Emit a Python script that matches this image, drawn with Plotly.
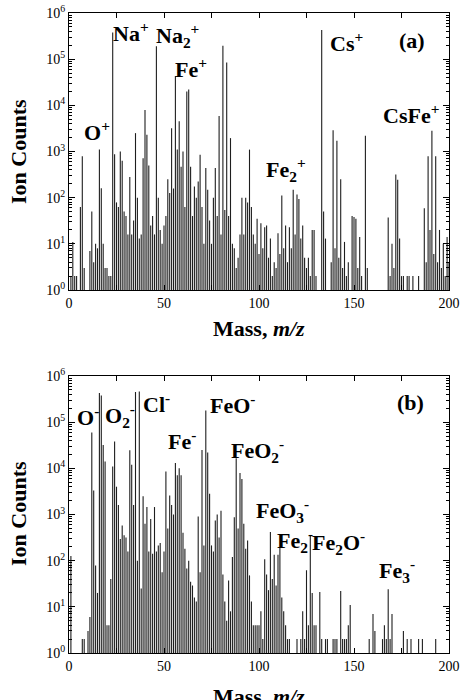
import plotly.graph_objects as go

# ---------------- data ----------------
masses = list(range(0, 201))

# Panel (a): positive ions, counts per m/z (1 = no counts, drawn on the baseline)
counts_pos = [
    1, 2, 11, 2, 2, 1, 63, 790, 3, 1,
    1, 7, 50, 4, 10, 8, 1100, 160, 10, 3,
    3, 2, 2, 380000, 870, 79, 63, 1000, 630, 50,
    40, 16, 280, 16, 32, 2500, 100, 13, 16, 710,
    7900, 2300, 500, 25, 40, 16, 190000, 100, 20, 10,
    25, 40, 250, 126, 3200, 158, 43000, 1100, 4500, 470,
    1000, 63, 20000, 22000, 470, 40, 174, 100, 224, 850,
    63, 10, 440, 148, 32, 10, 100, 440, 40, 5900,
    16, 195000, 54, 85000, 40, 1950, 10, 8, 3, 5,
    16, 100, 16, 100, 79, 1100, 63, 16, 10, 35,
    6, 28, 8, 23, 25, 5, 13, 2, 4, 3,
    17, 6, 112, 8, 25, 4, 23, 8, 148, 16,
    117, 93, 13, 25, 5, 3, 5, 2, 20, 20,
    2, 1, 1, 430000, 50, 13, 1, 1, 4, 2900,
    8, 1700, 5, 250, 3, 11, 2, 4, 1, 40,
    38, 35, 3, 14, 2, 1, 2200, 3, 1, 1,
    1, 1, 1, 1, 1, 1, 1, 1, 37, 2,
    10, 3, 316, 245, 13, 2, 2, 1, 2, 2,
    1, 2, 1, 1, 2, 1, 1, 59, 4, 790,
    20, 2800, 6, 790, 4, 20, 3, 10, 2, 14,
    4,
]

# Panel (b): negative ions
counts_neg = [
    1, 126, 1, 1, 1, 1, 1, 2, 2, 1,
    3, 6, 60000, 3300, 79, 20, 430000, 380000, 32000, 14000,
    4, 4, 40, 11000, 38000, 4000, 1600, 295, 575, 355,
    316, 158, 24500, 12000, 1600, 450000, 100, 460000, 25, 2500,
    630, 1450, 158, 794, 141, 1450, 158, 214, 240, 56,
    158, 8500, 500, 2570, 1600, 1000, 13000, 7100, 10000, 7100,
    400, 182, 68, 100, 35, 29, 16, 13, 910, 56,
    25000, 214, 180000, 22000, 2800, 214, 158, 740, 1000, 316,
    1200, 50, 13, 5, 37, 8, 120, 870, 16600, 500,
    7900, 5900, 630, 182, 275, 48, 13, 4, 4, 4,
    4, 8, 2, 107, 50, 23, 417, 40, 135, 29,
    135, 191, 16, 8, 4, 2, 2, 1, 1, 1,
    2, 1, 2, 8, 2, 62, 4, 355, 20, 4,
    4, 1, 21, 2, 1, 2, 2, 1, 1, 2,
    2, 2, 1, 22, 2, 2, 2, 4, 11, 1,
    1, 1, 1, 1, 1, 1, 1, 1, 2, 1,
    7, 3, 1, 1, 1, 2, 4, 2, 24, 2,
    7, 1, 1, 1, 1, 1, 3, 1, 2, 1,
    2, 1, 1, 1, 2, 1, 2, 1, 1, 1,
    1, 1, 1, 2, 1, 1, 1, 1, 1, 1,
    1,
]

x_tick_vals = [0, 50, 100, 150, 200]
x_tick_text = ["0", "50", "100", "150", "200"]
y_tick_vals = [1, 10, 100, 1000, 10000, 100000, 1000000]
y_tick_text = ["10<sup>0</sup>", "10<sup>1</sup>", "10<sup>2</sup>", "10<sup>3</sup>",
               "10<sup>4</sup>", "10<sup>5</sup>", "10<sup>6</sup>"]

labels_pos = ["O<sup>+</sup>", "Na<sup>+</sup>", "Na<sub>2</sub><sup>+</sup>", "Fe<sup>+</sup>",
              "Fe<sub>2</sub><sup>+</sup>", "Cs<sup>+</sup>", "CsFe<sup>+</sup>", "(a)"]
labels_neg = ["O<sup>-</sup>", "O<sub>2</sub><sup>-</sup>", "Cl<sup>-</sup>", "Fe<sup>-</sup>",
              "FeO<sup>-</sup>", "FeO<sub>2</sub><sup>-</sup>", "FeO<sub>3</sub><sup>-</sup>",
              "Fe<sub>2</sub><sup>-</sup>", "Fe<sub>2</sub>O<sup>-</sup>",
              "Fe<sub>3</sub><sup>-</sup>", "(b)"]

# ---------------- layout geometry (pixels) ----------------
W, H = 460, 700
L_PX, R_PX, T_PX, B_PX = 69, 449, 13, 653
pos_pix = [(97, 131), (131, 32), (177, 36), (191, 68), (286, 169), (346, 42), (411, 114), (412, 40)]
neg_pix = [(88, 416), (120, 415), (156, 403), (182, 440), (232, 404), (257, 450), (282, 510),
           (295, 540), (338, 542), (397, 570), (410, 402)]


def px(xp):
    return (xp - L_PX) / (R_PX - L_PX)


def py(yp):
    return (B_PX - yp) / (B_PX - T_PX)


def sticks(xs, ys):
    """Turn a stick spectrum into a single path: one vertical segment per mass."""
    sx, sy = [], []
    for m, c in zip(xs, ys):
        if c > 1:
            sx += [m, m, None]
            sy += [1, c, None]
    return sx, sy


SERIF = "Liberation Serif, Times New Roman, serif"
LINE_COLOR = "#1e1e1e"

fig = go.Figure()
ax, ay = sticks(masses, counts_pos)
bx, by = sticks(masses, counts_neg)
fig.add_trace(go.Scatter(x=ax, y=ay, mode="lines", line=dict(color=LINE_COLOR, width=1.1),
                         xaxis="x", yaxis="y", showlegend=False, connectgaps=False))
fig.add_trace(go.Scatter(x=bx, y=by, mode="lines", line=dict(color=LINE_COLOR, width=1.1),
                         xaxis="x2", yaxis="y2", showlegend=False, connectgaps=False))

minor_y = []
for d in [1, 10, 100, 1000, 10000, 100000]:
    for k in range(2, 10):
        minor_y.append(d * k)

xaxis_common = dict(
    range=[0, 200], tickmode="array", tickvals=x_tick_vals, ticktext=x_tick_text,
    ticks="inside", ticklen=5, tickwidth=1, tickcolor="black",
    minor=dict(tickmode="array", tickvals=[25, 75, 125, 175], ticks="inside", ticklen=5,
               tickcolor="black", showgrid=False),
    showline=True, linecolor="black", linewidth=1, mirror="allticks",
    showgrid=False, zeroline=False, automargin=False,
    tickfont=dict(family=SERIF, size=14, color="black"),
)
yaxis_common = dict(
    type="log", range=[0, 6], tickmode="array", tickvals=y_tick_vals, ticktext=y_tick_text,
    ticks="inside", ticklen=6, tickwidth=1, tickcolor="black",
    minor=dict(tickmode="array", tickvals=minor_y, ticks="inside", ticklen=3,
               tickcolor="black", showgrid=False),
    showline=True, linecolor="black", linewidth=1, mirror="allticks",
    showgrid=False, zeroline=False, automargin=False,
    tickfont=dict(family=SERIF, size=14, color="black"),
)

dom_a = [py(290), 1.0]
dom_b = [0.0, py(376)]

fig.update_layout(
    template="none",
    width=W, height=H,
    margin=dict(l=L_PX, r=W - R_PX, t=T_PX, b=H - B_PX, pad=0),
    paper_bgcolor="white", plot_bgcolor="white",
    xaxis=dict(xaxis_common, anchor="y", domain=[0, 1]),
    yaxis=dict(yaxis_common, anchor="x", domain=dom_a),
    xaxis2=dict(xaxis_common, anchor="y2", domain=[0, 1]),
    yaxis2=dict(yaxis_common, anchor="x2", domain=dom_b),
    showlegend=False,
)

annotations = []
for txt, (xp, yp) in zip(labels_pos, pos_pix):
    annotations.append(dict(text=txt, x=px(xp), y=py(yp), xref="paper", yref="paper",
                            xanchor="center", yanchor="middle", showarrow=False,
                            font=dict(family=SERIF, size=22, color="black", weight="bold")))
for txt, (xp, yp) in zip(labels_neg, neg_pix):
    annotations.append(dict(text=txt, x=px(xp), y=py(yp), xref="paper", yref="paper",
                            xanchor="center", yanchor="middle", showarrow=False,
                            font=dict(family=SERIF, size=22, color="black", weight="bold")))

# axis titles
for yc in [152, 514]:
    annotations.append(dict(text="Ion Counts", x=px(18), y=py(yc), xref="paper", yref="paper",
                            xanchor="center", yanchor="middle", textangle=-90, showarrow=False,
                            font=dict(family=SERIF, size=22, color="black", weight="bold")))
for yt in [314, 682]:
    annotations.append(dict(text="Mass, <i>m/z</i>", x=px(259), y=py(yt), xref="paper",
                            yref="paper", xanchor="center", yanchor="top", showarrow=False,
                            font=dict(family=SERIF, size=22, color="black", weight="bold")))

fig.update_layout(annotations=annotations)
fig.write_html("out.html")
